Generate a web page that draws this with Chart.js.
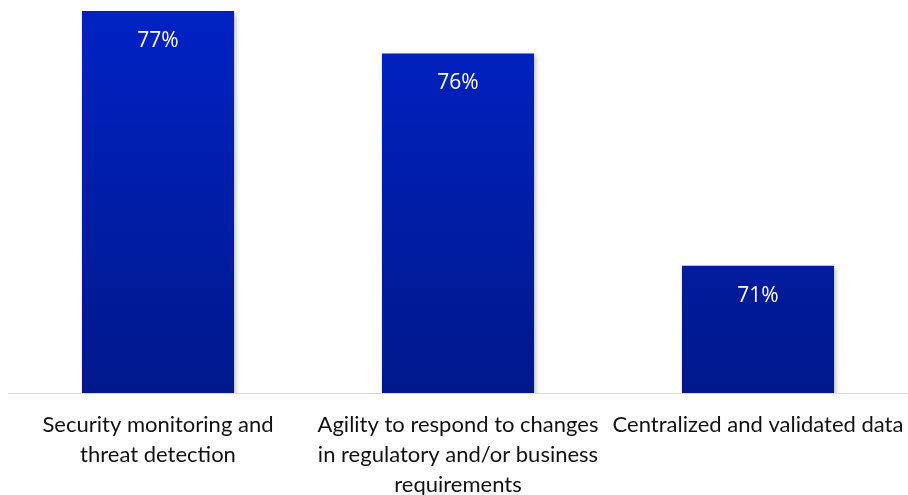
<!DOCTYPE html>
<html>
<head>
<meta charset="utf-8">
<script src="https://cdn.jsdelivr.net/npm/chart.js@4/dist/chart.umd.min.js"></script>
<style>
  html, body { margin: 0; padding: 0; background: #fff; }
  #wrap { width: 908px; height: 495px; }
</style>
</head>
<body>
<div id="wrap"><canvas id="chart"></canvas></div>
<script>
const categories = [
  ["Security monitoring and", "threat detection"],
  ["Agility to respond to changes", "in regulatory and/or business", "requirements"],
  ["Centralized and validated data"]
]
const values = [77, 76, 71]
const valueLabels = ["77%", "76%", "71%"]

const barGradient = (ctx) => {
  const area = ctx.chart.chartArea
  if (!area) return "#001fb0"
  const g = ctx.chart.ctx.createLinearGradient(0, area.top, 0, area.bottom)
  g.addColorStop(0, "#0022c4")
  g.addColorStop(1, "#00188a")
  return g
}

// soft drop shadow under the bars
const shadowPlugin = {
  id: "barShadow",
  beforeDatasetsDraw(chart) {
    const c = chart.ctx
    c.save()
    c.shadowColor = "rgba(0,0,0,0.28)"
    c.shadowBlur = 5
    c.shadowOffsetX = 2
    c.shadowOffsetY = 2
  },
  afterDatasetsDraw(chart) {
    chart.ctx.restore()
  }
}

// value text inside the top of each bar
const valuePlugin = {
  id: "valueLabels",
  afterDatasetsDraw(chart) {
    const c = chart.ctx
    const meta = chart.getDatasetMeta(0)
    c.save()
    c.fillStyle = "#ffffff"
    c.font = "21px 'Open Sans', sans-serif"
    c.textAlign = "center"
    c.textBaseline = "middle"
    meta.data.forEach((bar, i) => {
      c.fillText(valueLabels[i], bar.x, bar.y + 30)
    })
    c.restore()
  }
}

new Chart(document.getElementById("chart"), {
  type: "bar",
  data: {
    labels: categories,
    datasets: [{
      data: values,
      backgroundColor: barGradient,
      borderWidth: 0,
      categoryPercentage: 1,
      barPercentage: 0.507,
    }]
  },
  options: {
    responsive: true,
    maintainAspectRatio: false,
    animation: false,
    layout: { padding: { left: 8, right: 0, top: 11, bottom: 0 } },
    plugins: { legend: { display: false }, tooltip: { enabled: false } },
    scales: {
      y: { display: false, min: 68, max: 77 },
      x: {
        grid: { display: false, drawTicks: false },
        border: { color: "#d9d9d9", width: 1 },
        ticks: {
          color: "#111111",
          font: { family: "Lato, 'Open Sans', sans-serif", size: 22, lineHeight: "30px" },
          padding: 17,
          autoSkip: false,
          maxRotation: 0,
          minRotation: 0,
        },
        afterFit(scale) {
          scale.height = 102
          scale.paddingLeft = 0
          scale.paddingRight = 0
        }
      }
    }
  },
  plugins: [shadowPlugin, valuePlugin]
})
</script>
</body>
</html>
